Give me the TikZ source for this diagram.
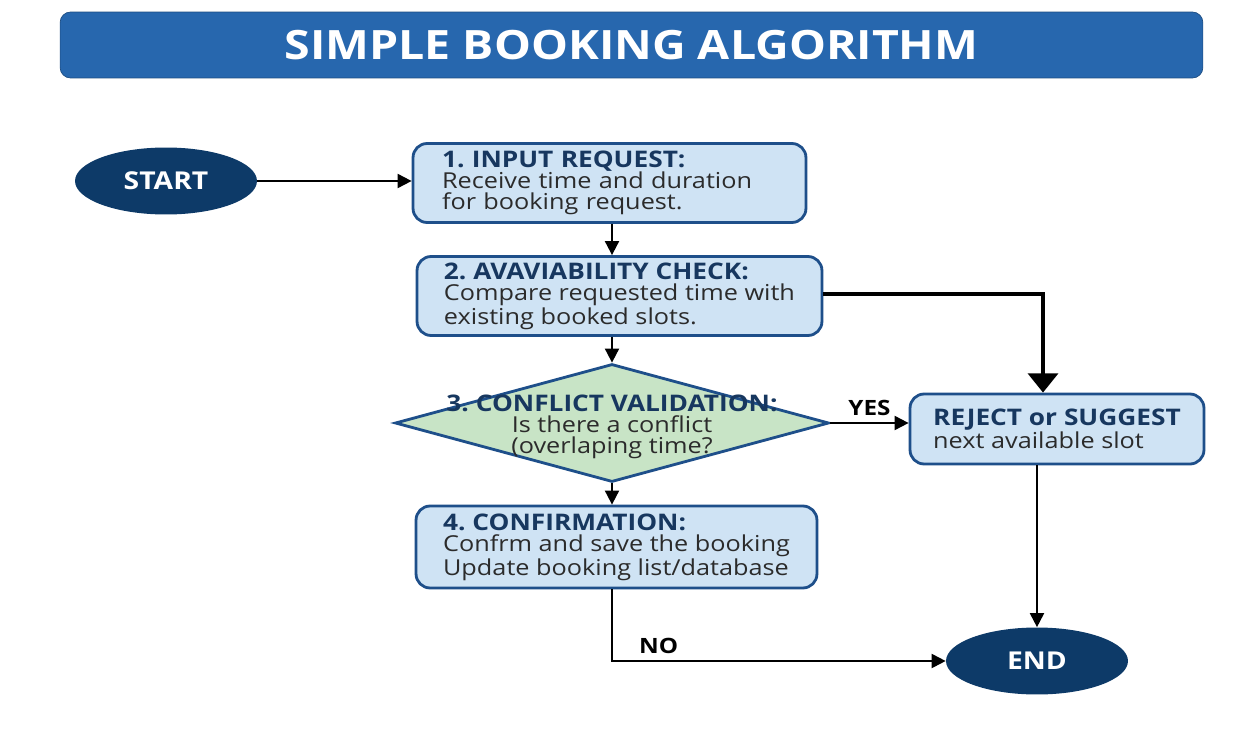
\documentclass[tikz,border=0pt]{standalone}
\usepackage{fontspec}
\setmainfont{Open Sans}[FakeStretch=1.15]
\usepackage{xcolor}
\usetikzlibrary{shapes.geometric, positioning, arrows.meta}

\definecolor{titleblue}{HTML}{2767AE}
\definecolor{navy}{HTML}{0D3A68}
\definecolor{boxblue}{HTML}{CFE3F4}
\definecolor{boxline}{HTML}{1E4F8A}
\definecolor{paleGreen}{HTML}{C8E4C6}
\definecolor{headtext}{HTML}{17375F}
\definecolor{bodytext}{HTML}{2B2B2B}

\newcommand{\stephead}[1]{{\fontsize{13}{13}\selectfont\bfseries\color{headtext}#1}}

\begin{document}
\frenchspacing
\begin{tikzpicture}[x=0.02cm, y=-0.02cm,
    stepbox/.style={draw=boxline, line width=1.6pt, fill=boxblue, rounded corners=8pt,
        align=left, text=bodytext, font=\fontsize{12.5}{12}\selectfont},
    endpoint/.style={ellipse, fill=navy, minimum width=3.64cm, minimum height=1.34cm,
        text=white, font=\fontsize{14}{14}\selectfont\bfseries},
    decision/.style={diamond, draw=boxline, line width=1.6pt, fill=paleGreen,
        minimum width=8.68cm, minimum height=2.36cm, inner sep=0pt},
    flow/.style={-{Triangle[length=8pt,width=8pt]}, line width=1.1pt},
    bigflow/.style={-{Triangle[length=11pt,width=17pt]}, line width=2.4pt},
    tag/.style={font=\fontsize{12}{12}\selectfont\bfseries}
    ]
    \path[use as bounding box, fill=white] (0,0) rectangle (1245,747);

    \node[fill=titleblue, draw=titleblue!75!black, rounded corners=6pt,
          minimum width=22.86cm, minimum height=1.32cm, text=white,
          font=\fontsize{23}{23}\selectfont\bfseries] (title) at (631.5,45) {SIMPLE BOOKING ALGORITHM};

    \node[endpoint] (start) at (166,181) {START};
    \node[stepbox, minimum width=7.86cm, minimum height=1.58cm, text width=6.7cm, inner xsep=0.58cm] (req) at (609.5,183)
        {\stephead{1. INPUT REQUEST:}\\Receive time and duration\\for booking request.};
    \node[stepbox, minimum width=8.1cm, minimum height=1.58cm] (check) at (619.5,296)
        {\stephead{2. AVAVIABILITY CHECK:}\\Compare requested time with\\existing booked slots.};
    \node[decision] (conflict) at (612,423) {};
    \node[align=center, text=bodytext, font=\fontsize{12.5}{12}\selectfont] (conflicttext) at (612,427)
        {\stephead{3. CONFLICT VALIDATION:}\\Is there a conflict\\(overlaping time?};
    \node[stepbox, minimum width=8.02cm, minimum height=1.64cm] (confirm) at (616.5,547)
        {\stephead{4. CONFIRMATION:}\\Confrm and save the booking\\Update booking list/database};
    \node[stepbox, minimum width=5.88cm, minimum height=1.4cm] (reject) at (1057,429)
        {\stephead{REJECT or SUGGEST}\\next available slot};
    \node[endpoint] (finish) at (1037,661) {END};

    \draw[flow] (start) -- (req.west |- start);
    \draw[flow] (req.south -| conflict) -- (check.north -| conflict);
    \draw[flow] (check.south -| conflict) -- (conflict.north);
    \draw[bigflow] ([yshift=0.04cm]check.east) -| ([xshift=-0.28cm]reject.north);
    \draw[flow] (conflict.east) -- node[tag, above] (yes) {YES} (conflict.east -| reject.west);
    \draw[flow] (conflict.south) -- (confirm.north -| conflict);
    \draw[flow] (confirm.south -| conflict) |- node[tag, pos=0.57, above] (no) {NO} (finish);
    \draw[flow] (reject.south -| finish) -- (finish);
\end{tikzpicture}
\end{document}
